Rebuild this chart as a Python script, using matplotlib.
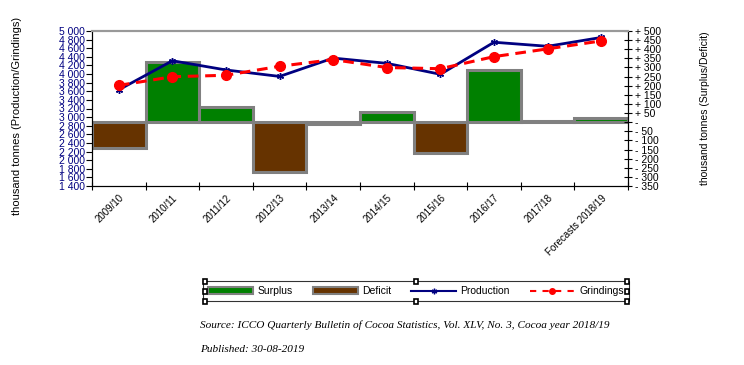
import numpy as np
import matplotlib.pyplot as plt
from matplotlib.lines import Line2D
from matplotlib.patches import Patch, Rectangle
from matplotlib.ticker import FuncFormatter

# Cocoa years
seasons = ['2009/10', '2010/11', '2011/12', '2012/13', '2013/14',
           '2014/15', '2015/16', '2016/17', '2017/18', 'Forecasts 2018/19']

# thousand tonnes
production = [3634, 4309, 4095, 3945, 4371, 4249, 3994, 4739, 4645, 4850]
grindings = [3737, 3938, 3972, 4181, 4336, 4152, 4124, 4405, 4585, 4770]
balance = [-140, 330, 82, -275, -8, 55, -170, 285, 5, 22]

plt.rcParams['font.family'] = ['Liberation Sans', 'DejaVu Sans']

fig = plt.figure(figsize=(7.44, 3.65), dpi=100)
ax = fig.add_axes([92 / 744, 1 - 186 / 365, 536 / 744, 155 / 365])
ax2 = ax.twinx()

x = np.arange(len(seasons))

# surplus / deficit bars on the right axis
colors = ['#008000' if v >= 0 else '#663300' for v in balance]
ax2.bar(x, balance, width=1.0, color=colors, edgecolor='#808080', linewidth=2.2)
ax2.set_ylim(-350, 500)
ax2.set_yticks(np.arange(-350, 501, 50))


def fmt_right(v, pos):
    v = int(round(v))
    if v > 0:
        return f'+ {v}'
    if v < 0:
        return f'- {-v}'
    return '-'


ax2.yaxis.set_major_formatter(FuncFormatter(fmt_right))
ax2.tick_params(axis='y', direction='inout', length=6, width=0.8, labelsize=7.5, pad=2)
ax2.set_ylabel('thousand tonnes (Surplus/Deficit)', fontsize=7.5)
ax2.yaxis.set_label_coords((700 - 92) / 536, 0.5)

# production and grindings lines on the left axis, above the bars
ax.set_zorder(ax2.get_zorder() + 1)
ax.patch.set_visible(False)
ax.plot(x, production, color='#000080', linewidth=2, marker=(6, 2, 0),
        markersize=5, markeredgewidth=1)
ax.plot(x, grindings, color='#FF0000', linewidth=2.2, linestyle=(0, (3.5, 2.2)),
        marker='o', markersize=7)

ax.set_ylim(1400, 5000)
ax.set_yticks(np.arange(1400, 5001, 200))
ax.yaxis.set_major_formatter(FuncFormatter(lambda v, p: f'{int(v):,}'.replace(',', ' ')))
ax.tick_params(axis='y', direction='out', length=4, width=0.8, labelsize=7.5,
               labelcolor='#000080', pad=1)
ax.set_ylabel('thousand tonnes (Production/Grindings)', fontsize=8)
ax.yaxis.set_label_coords((22 - 92) / 536, 0.45)

ax.set_xlim(-0.5, len(seasons) - 0.5)
ax.set_xticks(np.arange(len(seasons) + 1) - 0.5)
ax.set_xticklabels([])
ax.set_xticks(x, minor=True)
ax.set_xticklabels(seasons, minor=True, rotation=45, ha='right', va='top',
                   rotation_mode='anchor', fontsize=7)
ax.tick_params(axis='x', which='major', direction='inout', length=6, width=0.8)
ax.tick_params(axis='x', which='minor', length=0, pad=5)

for a in (ax, ax2):
    a.spines['top'].set_color('#999999')
    a.spines['top'].set_linewidth(1.5)

# legend
handles = [
    Patch(facecolor='#008000', edgecolor='#808080', linewidth=1.5),
    Patch(facecolor='#663300', edgecolor='#808080', linewidth=1.5),
    Line2D([], [], color='#000080', linewidth=1.5, marker=(6, 2, 0), markersize=4),
    Line2D([], [], color='#FF0000', linewidth=1.5, linestyle=(0, (3, 3)),
           marker='o', markersize=4),
]
leg = fig.legend(handles, ['Surplus', 'Deficit', 'Production', 'Grindings'],
                 loc='center', bbox_to_anchor=(416 / 744, 1 - 291 / 365),
                 ncol=4, fontsize=7.5, frameon=True, fancybox=False,
                 handlelength=4.35, handleheight=0.6, columnspacing=1.9,
                 handletextpad=0.4, borderpad=0.45, edgecolor='black')
leg.get_frame().set_linewidth(0.8)

# selection handles around the legend box
for hx, hy in [(205, 281), (416, 281), (627, 281), (205, 291), (627, 291),
               (205, 301), (416, 301), (627, 301)]:
    fig.patches.append(Rectangle(((hx - 2) / 744, 1 - (hy + 2.5) / 365), 4 / 744, 5 / 365,
                                 transform=fig.transFigure, facecolor='white',
                                 edgecolor='black', linewidth=1.2, zorder=10))

fig.text(200 / 744, 1 - 325 / 365,
         'Source: ICCO Quarterly Bulletin of Cocoa Statistics, Vol. XLV, No. 3, Cocoa year 2018/19',
         fontsize=8.1, style='italic', family='Liberation Serif', va='center')
fig.text(200 / 744, 1 - 350 / 365, 'Published: 30-08-2019',
         fontsize=8.1, style='italic', family='Liberation Serif', va='center')

fig.savefig('out.png', dpi=100)
